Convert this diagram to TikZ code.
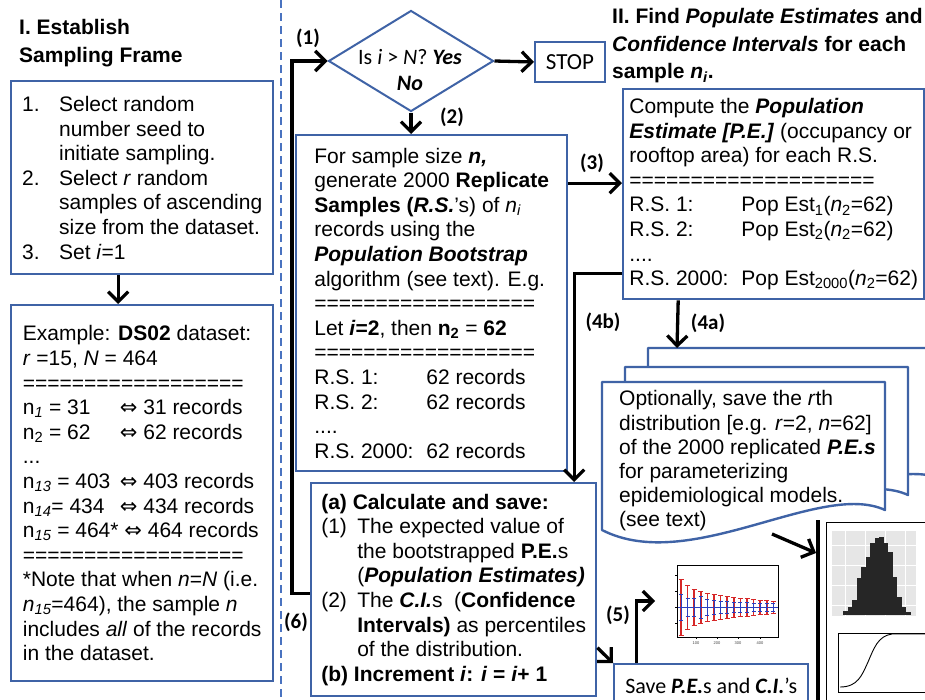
\documentclass[tikz,border=0pt]{standalone}
\usepackage{fontspec}
\setmainfont{Liberation Sans}
\newfontfamily\califont{Carlito}
\newfontfamily\symfont{DejaVu Sans}
\usepackage{tikz}
\usetikzlibrary{shapes.geometric, arrows.meta, positioning, calc}
\definecolor{boxblue}{HTML}{3F63A6}
\definecolor{sepblue}{HTML}{4A73C0}
\definecolor{ciRed}{HTML}{D62728}
\definecolor{ciBlue}{HTML}{2B3FBF}
\definecolor{panelgray}{HTML}{E6E6E6}
\newcommand\bodysize{\fontsize{21}{24.6}\selectfont}
\tikzstyle{stepbox} = [
  rectangle, draw=boxblue, line width=2.4pt, fill=white,
  anchor=north west, align=left, inner sep=0pt,
  font=\bodysize
]
\tikzstyle{heading} = [
  anchor=north west, align=left, inner sep=0pt,
  font=\fontsize{21}{27.5}\selectfont\bfseries
]
\tikzstyle{decision} = [
  diamond, draw=boxblue, line width=2pt,
  minimum width=165pt, minimum height=101pt, inner sep=0pt
]
\tikzstyle{steplabel} = [font=\califont\fontsize{21}{24}\selectfont\bfseries, inner sep=0pt]
\tikzstyle{docsheet} = [draw=boxblue, line width=2.4pt, fill=white, line join=round]
\tikzstyle{tinytext} = [font=\fontsize{4}{4.5}\selectfont, text=black!75, inner sep=0pt]
\tikzstyle{arrow} = [-{Straight Barb[length=10pt,width=20pt]}, line width=3.3pt, black]
\tikzstyle{link} = [line width=3.3pt, black]

\begin{document}
\begin{tikzpicture}[x=1pt, y=-1pt]
  \useasboundingbox (0,0) rectangle (925,699);
  \clip (0,0) rectangle (925,699);
  \fill[white] (0,0) rectangle (925,699);

  % Separator
  \draw[sepblue, line width=2.6pt, dash pattern=on 8pt off 5pt] (281,0) -- (281,699);

  % Part I
  \node[heading] (head1) at (19,19.5) {I. Establish\\Sampling Frame};
  \node[stepbox, minimum width=262pt, minimum height=193pt] (select) at (10,80) {%
    \makebox[37pt][l]{1.}Select random\\
    \hspace*{37pt}number seed to\\
    \hspace*{37pt}initiate sampling.\\
    \makebox[37pt][l]{2.}Select \textit{r} random\\
    \hspace*{37pt}samples of ascending\\
    \hspace*{37pt}size from the dataset.\\
    \makebox[37pt][l]{3.}Set \textit{i}=1};
  \node[stepbox, minimum width=262pt, minimum height=376pt] (example) at (10,304) {%
    Example: \textbf{DS02} dataset:\\
    \textit{r} =15, \textit{N} = 464\\
    ==================\\
    \makebox[97pt][l]{n\textsubscript{\textit{1}} = 31}{\symfont ⇔} 31 records\\
    \makebox[97pt][l]{n\textsubscript{2} = 62}{\symfont ⇔} 62 records\\
    ...\\
    \makebox[97pt][l]{n\textsubscript{\textit{13}} = 403}{\symfont ⇔} 403 records\\
    \makebox[97pt][l]{n\textsubscript{\textit{14}}= 434}{\symfont ⇔} 434 records\\
    n\textsubscript{\textit{15}} = 464* {\symfont ⇔} 464 records\\
    ==================\\
    *Note that when \textit{n}=\textit{N} (i.e.\\
    \textit{n}\textsubscript{\textit{15}}=464), the sample \textit{n}\\
    includes \textit{all} of the records\\
    in the dataset.};

  % Loop test
  \node[decision] (test) at (411,61) {};
  \node[font=\califont\fontsize{22}{26}\selectfont, align=center, inner sep=0pt] (testtxt) at (410,70)
    {Is \textit{i} > \textit{N}? \textbf{\textit{Yes}}\\\textbf{\textit{No}}};
  \node[rectangle, draw=boxblue, line width=2pt, minimum width=70pt, minimum height=40pt,
    font=\califont\fontsize{23}{26}\selectfont] (stop) at (570,62) {STOP};

  % Replicate samples
  \node[stepbox, minimum width=271pt, minimum height=336pt] (replic) at (295,134) {%
    For sample size \textbf{\textit{n,}}\\
    generate 2000 \textbf{Replicate}\\
    \textbf{Samples (\textit{R.S.}}’s) of \textit{n\textsubscript{i}}\\
    records using the\\
    \textbf{\textit{Population Bootstrap}}\\
    algorithm (see text). E.g.\\
    ==================\\
    Let \textbf{\textit{i}=2}, then \textbf{n\textsubscript{2}} = \textbf{62}\\
    ==================\\
    \makebox[112pt][l]{R.S. 1:}62 records\\
    \makebox[112pt][l]{R.S. 2:}62 records\\
    ....\\
    \makebox[112pt][l]{R.S. 2000:}62 records};

  % Part II
  \node[heading] (head2) at (612,8.5) {II. Find \textit{Populate Estimates} and\\
    \textit{Confidence Intervals} for each\\sample \textit{n\textsubscript{i}}.};
  \node[stepbox, minimum width=301pt, minimum height=210pt] (compute) at (622,88) {%
    Compute the \textbf{\textit{Population}}\\
    \textbf{\textit{Estimate [P.E.]}} (occupancy or\\
    rooftop area) for each R.S.\\
    ====================\\
    \makebox[112pt][l]{R.S. 1:}Pop Est\textsubscript{1}(\textit{n}\textsubscript{2}=62)\\
    \makebox[112pt][l]{R.S. 2:}Pop Est\textsubscript{2}(\textit{n}\textsubscript{2}=62)\\
    ....\\
    \makebox[112pt][l]{R.S. 2000:}Pop Est\textsubscript{2000}(\textit{n}\textsubscript{2}=62)};

  % Saved distributions (stack of sheets)
  \draw[docsheet] (648,348) -- (945,348) -- (945,480) .. controls (880,450) and (736,545) .. (648,500) -- cycle;
  \draw[docsheet] (625,367) -- (908,367) -- (908,495) .. controls (843,465) and (713,560) .. (625,515) -- cycle;
  \draw[docsheet] (602,382) -- (885,382) -- (885,510) .. controls (820,480) and (690,575) .. (602,530) -- cycle;
  \coordinate (stacktop) at (677,348);
  \coordinate (docout) at (772,534);
  \node[anchor=north west, align=left, inner sep=0pt, font=\fontsize{21}{24.2}\selectfont] (optional) at (619,390.5) {%
    Optionally, save the \textit{r}th\\
    distribution [e.g. \textit{r}=2, \textit{n}=62]\\
    of the 2000 replicated \textbf{\textit{P.E.s}}\\
    for parameterizing\\
    epidemiological models.\\
    (see text)};

  % Calculate and save
  \node[stepbox, minimum width=285pt, minimum height=213pt] (calc) at (310,482) {%
    \textbf{(a) Calculate and save:}\\
    \makebox[36pt][l]{(1)}The expected value of\\
    \hspace*{36pt}the bootstrapped \textbf{P.E.}s\\
    \hspace*{36pt}(\textbf{\textit{Population Estimates)}}\\
    \makebox[36pt][l]{(2)}The \textbf{\textit{C.I.}}s\ \ (\textbf{Confidence}\\
    \hspace*{36pt}\textbf{Intervals)} as percentiles\\
    \hspace*{36pt}of the distribution.\\
    \textbf{(b) Increment \textit{i}: \textit{i} = \textit{i}+ 1}};
  \node[stepbox, minimum width=194pt, minimum height=44pt, align=center,
    font=\califont\fontsize{22}{26}\selectfont] (savebox) at (613,663)
    {Save \textbf{\textit{P.E.}}s and \textbf{\textit{C.I.}}’s};

  % C.I. plot
  \node[draw=black, line width=0.7pt, minimum width=101pt, minimum height=72pt, inner sep=0pt] (ciplot) at (728,601) {};
  \foreach \k/\r/\b in {0/28/13, 1/22/9, 2/18/9, 3/16/11, 4/14/8, 5/13/7, 6/12/6, 7/11/6,
                        8/10/5, 9/9/5, 10/9/5, 11/8/4, 12/7/4, 13/7/4, 14/6/4} {
    \draw[ciRed, line width=1.6pt] (681+6.6*\k,607-\r) -- (681+6.6*\k,607+\r);
    \draw[ciRed, line width=1pt] (678.5+6.6*\k,607-\r) -- ++(5,0) (678.5+6.6*\k,607+\r) -- ++(5,0);
    \draw[ciBlue, line width=1pt] (681+6.6*\k,607-\b) -- (681+6.6*\k,607+\b);
    \draw[ciBlue, line width=0.8pt] (679+6.6*\k,607-\b) -- ++(4,0) (679+6.6*\k,607+\b) -- ++(4,0);
  }
  \draw[ciBlue, line width=1pt] (678,607) -- (778,607);
  \foreach \tx/\tl in {696/100, 717/200, 738/300, 760/400} {
    \draw[line width=0.5pt] (\tx,637) -- (\tx,639);
    \node[tinytext] at (\tx,643) {\tl};
  }
  \foreach \ty in {575,591,607,623} \draw[line width=0.5pt] (675,\ty) -- (677.5,\ty);

  % Distribution figure
  \draw[link] (818,520) -- (818,705);
  \node[draw=black, line width=0.8pt, anchor=north west, minimum width=110pt, minimum height=190pt, inner sep=0pt] (histfig) at (826,522) {};
  \fill[panelgray] (832,531) rectangle (916,616);
  \foreach \gx in {845,865,885,905} \draw[white, line width=0.6pt] (\gx,531) -- (\gx,616);
  \foreach \gy in {545,565,585,605} \draw[white, line width=0.6pt] (832,\gy) -- (916,\gy);
  \foreach \bx/\by in {843/611, 847.5/607, 852/600, 856.5/578, 861/567, 865.5/557, 870/543, 874.5/538,
                       879/537, 883.5/543, 888/552, 892.5/577, 897/597, 901.5/607, 906/612} {
    \fill[black!85] (\bx,\by) rectangle (\bx+4.5,615);
  }
  \draw[line width=0.6pt] (838,633) rectangle (940,692);
  \draw[line width=0.9pt] (840,687) .. controls (858,687) and (862,675) .. (868,662)
    .. controls (874,648) and (878,636) .. (892,634) -- (930,634);

  % Connectors
  \draw[arrow] ([xshift=-24pt]select.south) -- ([xshift=-24pt]example.north);
  \draw[arrow] (test.east) -- (stop.west);
  \draw[arrow] (test.south) -- (test.south |- replic.north);
  \coordinate (in3) at ([yshift=11pt]compute.west);
  \draw[arrow] (replic.east |- in3) -- (in3);
  \draw[arrow] ([yshift=-79pt]compute.west) -| ([xshift=120.5pt]calc.north);
  \draw[arrow] ([xshift=-95.5pt]compute.south) -- (stacktop);
  \draw[arrow] ([yshift=-3.5pt]calc.west) -- ++(-18,0) |- (test.west);
  \draw[arrow] ([yshift=-58pt]calc.east) -- (savebox.north west);
  \draw[arrow] ([xshift=-75pt]savebox.north) |- ([xshift=-22pt]ciplot.west);
  \coordinate (figin) at (816,553);
  \draw[arrow] (docout) -- (figin);

  % Step labels
  \node[steplabel] (l1) at (308,38) {(1)};
  \node[steplabel] (l2) at (452,117) {(2)};
  \node[steplabel] (l3) at (592,163) {(3)};
  \node[steplabel] (l4b) at (603,322) {(4b)};
  \node[steplabel] (l4a) at (708,323) {(4a)};
  \node[steplabel] (l5) at (618,615) {(5)};
  \node[steplabel] (l6) at (296,622) {(6)};
\end{tikzpicture}
\end{document}
